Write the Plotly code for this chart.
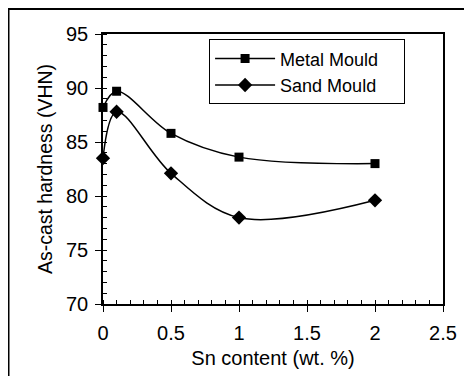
import plotly.graph_objects as go

sn_content = [0, 0.1, 0.5, 1, 2]
metal_mould = [88.2, 89.7, 85.8, 83.6, 83.0]
sand_mould = [83.5, 87.8, 82.1, 78.0, 79.6]

FONT = "Liberation Sans, Arial, sans-serif"
NB = "\u00a0"

fig = go.Figure()
fig.add_trace(go.Scatter(
    x=sn_content, y=metal_mould, name="Metal Mould" + NB * 4, mode="lines+markers",
    line=dict(color="black", width=1.5, shape="spline", smoothing=1),
    marker=dict(symbol="square", size=9, color="black"),
    cliponaxis=False,
))
fig.add_trace(go.Scatter(
    x=sn_content, y=sand_mould, name="Sand Mould" + NB * 4, mode="lines+markers",
    line=dict(color="black", width=1.5, shape="spline", smoothing=1),
    marker=dict(symbol="diamond", size=11, color="black"),
    cliponaxis=False,
))

axis_common = dict(
    showgrid=False, zeroline=False, showline=True, linecolor="black", linewidth=1.5,
    mirror=True, ticks="outside", ticklen=6, tickwidth=1, tickcolor="black",
    tickfont=dict(size=20, color="black", family=FONT), automargin=False,
)

fig.update_xaxes(
    range=[0, 2.5], dtick=0.5, tick0=0,
    title=dict(text="Sn content (wt. %)", font=dict(size=20, color="black", family=FONT), standoff=8),
    minor=dict(ticks="inside", dtick=0.1, ticklen=4, tickcolor="black", tickwidth=1),
    ticklabelstandoff=4,
    **axis_common,
)
fig.update_yaxes(
    range=[70, 95], dtick=5, tick0=70,
    title=dict(text="As-cast hardness (VHN)", font=dict(size=19.5, color="black", family=FONT), standoff=8),
    minor=dict(ticks="inside", dtick=1, ticklen=4, tickcolor="black", tickwidth=1),
    ticklabelstandoff=3,
    **axis_common,
)

L, T, W, H = 95, 26, 340, 270
fig.update_layout(
    width=472, height=376,
    margin=dict(l=L, r=472 - L - W, t=T, b=376 - T - H),
    paper_bgcolor="white", plot_bgcolor="white",
    font=dict(family=FONT, color="black"),
    showlegend=True,
    legend=dict(
        x=0.312, y=0.98, xanchor="left", yanchor="top",
        bordercolor="black", borderwidth=1, bgcolor="white",
        font=dict(size=18, color="black", family=FONT),
        itemwidth=60, tracegroupgap=0,
    ),
    shapes=[dict(
        type="rect", xref="paper", yref="paper",
        x0=(0.5 - L) / W, x1=(480 - L) / W,
        y0=-(390 - T - H) / H, y1=1 + (T - 1) / H,
        line=dict(color="black", width=2), fillcolor="rgba(0,0,0,0)", layer="below",
    )],
)

fig.write_html("out.html")
